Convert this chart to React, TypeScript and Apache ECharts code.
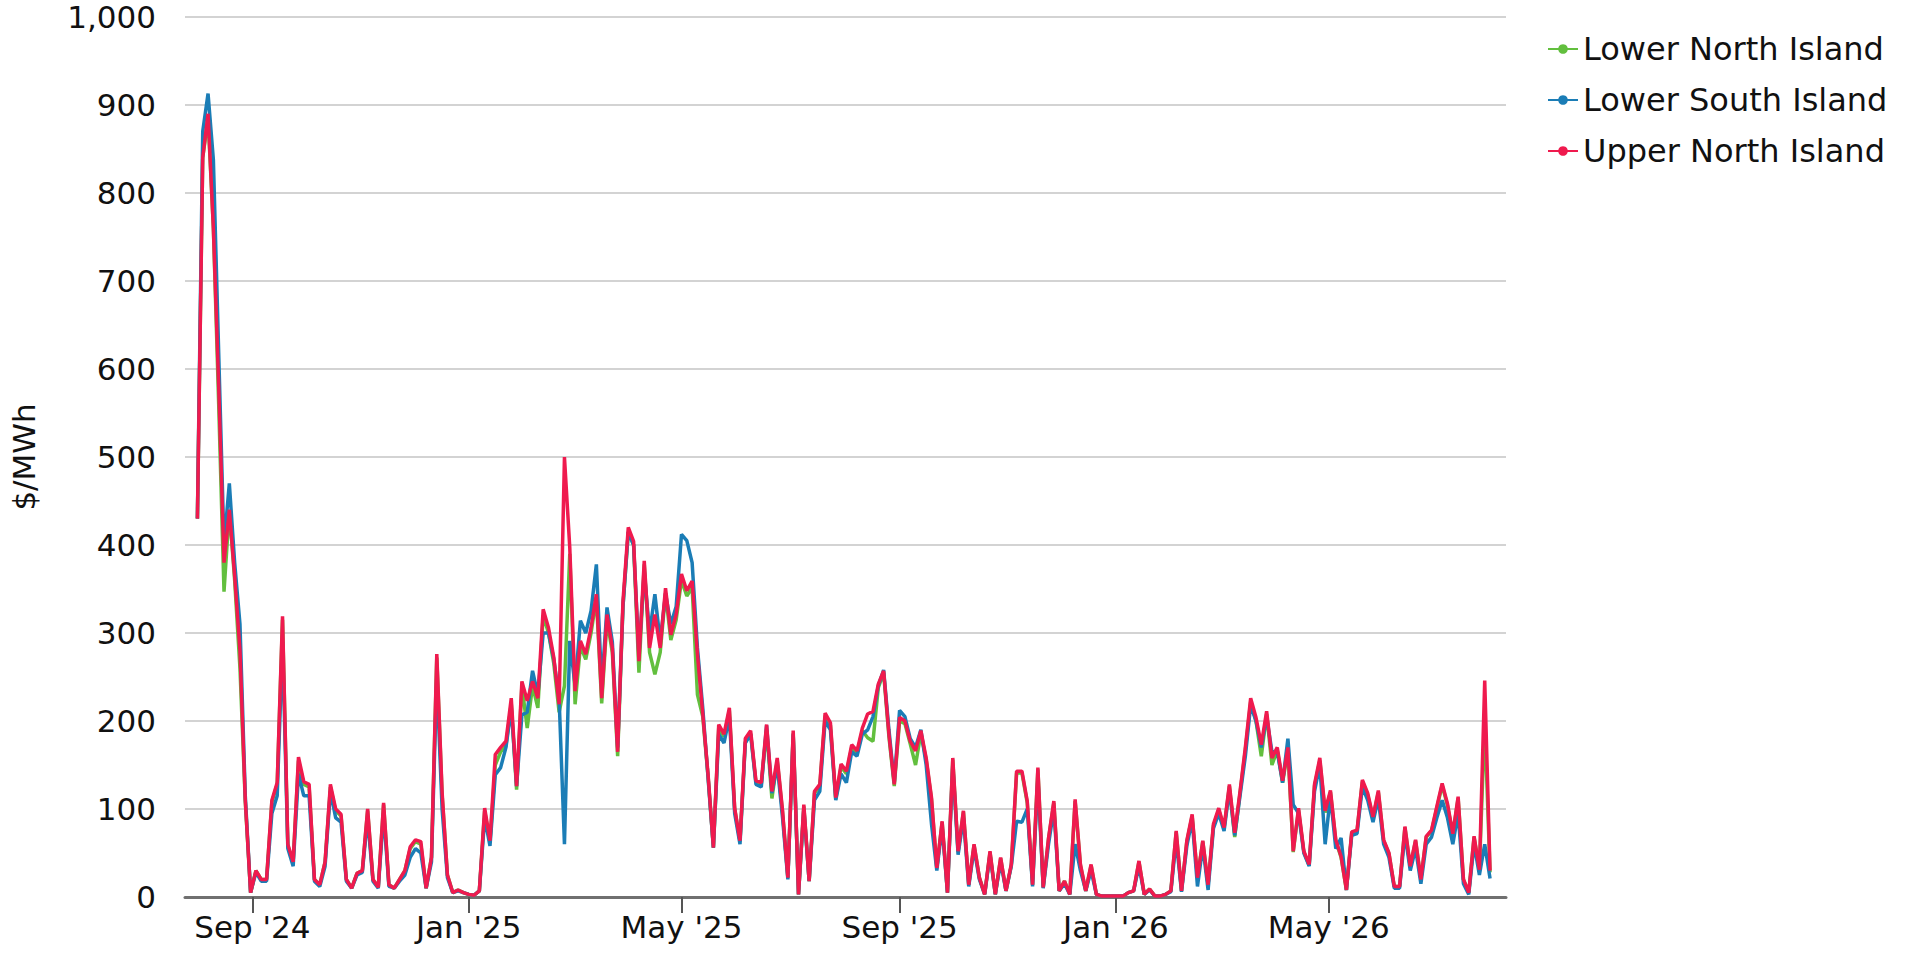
import React, { useEffect, useRef } from "react";
import * as echarts from "echarts";

// ---- data ----
const startDate = "2024-08-01"; // first observation
const stepDays = 3; // spacing between observations

const seriesNames = ["Lower North Island", "Lower South Island", "Upper North Island"];
const seriesColors = ["#62bf3e", "#1b7db6", "#ef1a4e"];

const upperNorthIsland = [
  430, 840, 890, 760, 581, 380, 440, 365, 280, 110, 5, 30, 20, 20, 110, 130, 319, 60, 40, 159,
  131, 128, 20, 14, 40, 128, 100, 94, 20, 10, 27, 30, 100, 20, 11, 107, 14, 10, 20, 30,
  57, 65, 63, 10, 45, 276, 119, 25, 5, 8, 5, 3, 2, 7, 101, 64, 162, 170, 177, 226,
  126, 245, 223, 245, 226, 327, 306, 272, 219, 500, 397, 234, 291, 276, 306, 344, 226, 321, 283, 165,
  336, 420, 404, 268, 382, 283, 321, 283, 351, 298, 321, 367, 348, 359, 276, 208, 139, 56, 196, 185,
  215, 101, 64, 180, 189, 132, 130, 196, 120, 158, 98, 22, 189, 3, 105, 18, 120, 128, 209, 198,
  113, 151, 143, 173, 166, 192, 208, 211, 242, 257, 185, 128, 204, 200, 177, 166, 189, 158, 113, 33,
  86, 5, 158, 52, 98, 14, 60, 22, 3, 52, 3, 45, 7, 37, 143, 143, 109, 14, 147, 11,
  67, 109, 7, 18, 3, 111, 37, 7, 37, 3, 1, 1, 1, 1, 1, 5, 7, 41, 3, 9,
  1, 1, 3, 7, 75, 7, 64, 94, 22, 64, 14, 83, 101, 79, 128, 73, 120, 170, 226, 204,
  173, 211, 158, 170, 132, 170, 52, 101, 52, 37, 128, 158, 98, 121, 65, 46, 8, 74, 76, 133,
  118, 91, 121, 65, 50, 12, 12, 80, 35, 65, 20, 69, 76, 103, 129, 106, 72, 114, 20, 5,
  69, 31, 246, 30,
];

const lowerSouthIsland = [
  430, 870, 913, 838, 618, 400, 470, 380, 310, 115, 5, 28, 18, 18, 95, 115, 290, 55, 35, 140,
  115, 115, 18, 12, 35, 120, 90, 85, 18, 10, 25, 28, 90, 18, 10, 95, 12, 10, 18, 25,
  45, 55, 50, 10, 40, 250, 100, 22, 5, 7, 5, 3, 2, 7, 90, 58, 139, 147, 170, 215,
  126, 207, 210, 257, 230, 300, 300, 270, 225, 60, 291, 240, 314, 300, 325, 378, 240, 329, 290, 170,
  330, 415, 400, 275, 370, 300, 344, 290, 345, 310, 330, 412, 405, 380, 283, 215, 135, 56, 185, 175,
  205, 95, 60, 175, 185, 128, 125, 195, 118, 150, 90, 20, 185, 3, 100, 18, 110, 120, 200, 190,
  110, 140, 130, 165, 160, 185, 190, 205, 240, 258, 190, 130, 212, 205, 180, 170, 190, 150, 83, 30,
  80, 5, 150, 48, 90, 12, 55, 20, 3, 48, 3, 40, 7, 35, 86, 85, 100, 12, 135, 10,
  60, 100, 7, 15, 3, 60, 30, 7, 30, 3, 1, 1, 1, 1, 1, 5, 7, 35, 3, 8,
  1, 1, 3, 6, 65, 6, 58, 88, 12, 58, 8, 78, 95, 75, 122, 70, 115, 160, 218, 200,
  170, 205, 165, 165, 130, 180, 105, 95, 50, 35, 120, 150, 60, 115, 55, 67, 8, 70, 72, 125,
  110, 85, 112, 60, 45, 10, 10, 72, 30, 55, 15, 60, 68, 90, 110, 90, 60, 95, 15, 3,
  60, 25, 60, 21,
];

const lowerNorthIsland = [
  430, 840, 885, 760, 560, 347, 440, 360, 260, 108, 5, 30, 20, 20, 108, 128, 315, 58, 40, 155,
  128, 125, 20, 14, 40, 125, 98, 92, 20, 10, 27, 30, 98, 20, 11, 105, 14, 10, 20, 30,
  55, 63, 60, 10, 45, 272, 116, 25, 5, 8, 5, 3, 2, 7, 98, 62, 150, 165, 172, 220,
  122, 240, 192, 240, 215, 320, 300, 265, 210, 240, 390, 219, 285, 270, 300, 340, 220, 315, 278, 160,
  330, 415, 400, 255, 378, 278, 253, 278, 345, 292, 315, 360, 342, 352, 230, 205, 137, 56, 192, 182,
  212, 100, 63, 176, 186, 130, 128, 190, 112, 155, 96, 22, 186, 3, 103, 18, 118, 126, 206, 195,
  111, 148, 140, 170, 163, 189, 181, 177, 238, 255, 182, 126, 200, 197, 174, 150, 186, 156, 111, 33,
  85, 5, 156, 51, 97, 14, 59, 22, 3, 51, 3, 44, 7, 36, 141, 141, 107, 14, 145, 11,
  66, 107, 7, 18, 3, 109, 36, 7, 36, 3, 1, 1, 1, 1, 1, 5, 7, 40, 3, 9,
  1, 1, 3, 7, 74, 7, 63, 92, 22, 63, 14, 81, 99, 78, 126, 68, 118, 167, 222, 200,
  160, 208, 150, 167, 130, 167, 51, 99, 51, 36, 126, 155, 96, 119, 64, 45, 8, 73, 75, 131,
  116, 90, 119, 64, 49, 12, 12, 79, 34, 64, 20, 68, 75, 101, 127, 104, 71, 112, 20, 5,
  68, 30, 200, 28,
];

const axisMinDate = "2024-07-25";
const axisMaxDate = "2026-08-09";
const tickDates = ["2024-09-01", "2025-01-01", "2025-05-01", "2025-09-01", "2026-01-01", "2026-05-01"];
const tickLabels = ["Sep '24", "Jan '25", "May '25", "Sep '25", "Jan '26", "May '26"];
const yMin = 0;
const yMax = 1000;
const yStep = 100;
const yAxisTitle = "$/MWh";

const FONT = "'DejaVu Sans', Verdana, sans-serif";
const TEXT = "#111111";
const DAY_MS = 86400000;

// days since the first observation
const dayOf = (iso: string) => Math.round((Date.parse(iso) - Date.parse(startDate)) / DAY_MS);

export default function App() {
  const ref = useRef<HTMLDivElement>(null);

  useEffect(() => {
    document.body.style.margin = "0";
    document.body.style.overflow = "hidden";
    if (!ref.current) return;
    const chart = echarts.init(ref.current, null, { renderer: "svg" });

    const toPairs = (vals: number[]) => vals.map((v, i) => [i * stepDays, v]);
    const tickDays = tickDates.map(dayOf);
    const seriesValues = [lowerNorthIsland, lowerSouthIsland, upperNorthIsland];

    const labelFor = (val: number) => {
      const i = tickDays.findIndex((d) => Math.abs(d - val) < 0.5);
      return i >= 0 ? tickLabels[i] : "";
    };

    chart.setOption({
      animation: false,
      backgroundColor: "#ffffff",
      grid: { left: 184, right: 407, top: 17, bottom: 60, containLabel: false },
      legend: {
        orient: "vertical",
        left: 1542,
        top: 28,
        itemWidth: 30,
        itemHeight: 12,
        itemGap: 19,
        textStyle: { fontSize: 32, fontFamily: FONT, color: TEXT },
        data: seriesNames,
      },
      xAxis: {
        type: "value",
        min: dayOf(axisMinDate),
        max: dayOf(axisMaxDate),
        axisLine: { show: true, onZero: false, lineStyle: { color: "#707070", width: 3 } },
        axisTick: {
          show: true,
          length: 16,
          customValues: tickDays,
          lineStyle: { color: "#555555", width: 2 },
        },
        axisLabel: {
          customValues: tickDays,
          formatter: (val: number) => labelFor(val),
          fontSize: 31,
          fontFamily: FONT,
          color: TEXT,
          margin: 14,
        },
        splitLine: { show: false },
      },
      yAxis: {
        type: "value",
        min: yMin,
        max: yMax,
        interval: yStep,
        name: yAxisTitle,
        nameLocation: "middle",
        nameRotate: 90,
        nameGap: 146,
        nameTextStyle: { fontSize: 31, fontFamily: FONT, color: TEXT },
        axisLine: { show: false },
        axisTick: { show: false },
        axisLabel: {
          fontSize: 31,
          lineHeight: 26,
          fontFamily: FONT,
          color: TEXT,
          margin: 29,
          formatter: (v: number) => v.toLocaleString("en-US"),
        },
        splitLine: { show: true, lineStyle: { color: "#d3d3d3", width: 2 } },
      },
      series: seriesNames.map((name, i) => ({
        name,
        type: "line",
        data: toPairs(seriesValues[i]),
        color: seriesColors[i],
        showSymbol: false,
        symbol: "circle",
        symbolSize: 8,
        lineStyle: { width: 3.5, color: seriesColors[i] },
        itemStyle: { color: seriesColors[i] },
        z: 2 + i,
      })),
    });

    return () => chart.dispose();
  }, []);

  return <div ref={ref} style={{ width: 1913, height: 957 }} />;
}
